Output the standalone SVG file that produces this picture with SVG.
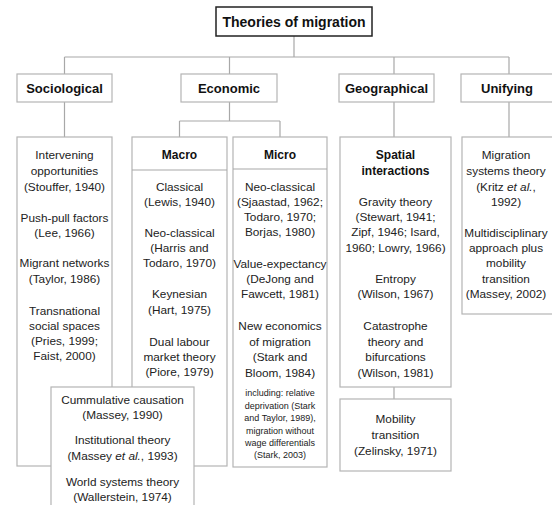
<svg xmlns="http://www.w3.org/2000/svg" width="552" height="505" viewBox="0 0 552 505">
<style>
.bx{fill:#fff;stroke:#b4b4b4;stroke-width:1.2}
.tb{fill:#fff;stroke:#222;stroke-width:1.5}
.ln{fill:none;stroke:#a8a8a8;stroke-width:1.2}
text{font-family:"Liberation Sans",Arial,sans-serif;fill:#222;text-anchor:middle}
.t{font-size:11.8px}
.h{font-size:13px;font-weight:bold;fill:#111}
.s{font-size:12px;font-weight:bold;fill:#111}
.sm{font-size:9px}
.ti{font-size:14px;font-weight:bold;fill:#111}
</style>
<rect width="552" height="505" fill="#fff"/>
<g id="connectors">
<path class="ln" d="M294 36V57M64.5 57H509M64.5 57V74M229.5 57V74M394 57V74M509 57V74"/>
<path class="ln" d="M64.5 102V137M229.5 102V121M179.5 121H280M179.5 121V137M280 121V137M394 102V137M509 102V137M394 387V399"/>
</g>
<g id="title"><rect class="tb" x="216" y="7" width="156" height="29"/><text class="ti" x="294" y="27">Theories of migration</text></g>
<g id="sociological"><rect class="bx" x="17" y="74" width="95" height="28"/><text class="h" x="64.5" y="93">Sociological</text></g>
<g id="economic"><rect class="bx" x="181" y="74" width="96" height="28"/><text class="h" x="229" y="93">Economic</text></g>
<g id="geographical"><rect class="bx" x="339" y="74" width="95" height="28"/><text class="h" x="386.5" y="93">Geographical</text></g>
<g id="unifying"><rect class="bx" x="461" y="74" width="100" height="28"/><text class="h" x="507" y="93">Unifying</text></g>
<g id="sociological-theories"><rect class="bx" x="17" y="137" width="95" height="329"/>
<text class="t" x="64.5" y="159">Intervening</text><text class="t" x="64.5" y="175">opportunities</text><text class="t" x="64.5" y="191">(Stouffer, 1940)</text>
<text class="t" x="64.5" y="222">Push-pull factors</text><text class="t" x="64.5" y="237">(Lee, 1966)</text>
<text class="t" x="64.5" y="267">Migrant networks</text><text class="t" x="64.5" y="283">(Taylor, 1986)</text>
<text class="t" x="64.5" y="315">Transnational</text><text class="t" x="64.5" y="330">social spaces</text><text class="t" x="64.5" y="345">(Pries, 1999;</text><text class="t" x="64.5" y="360">Faist, 2000)</text></g>
<g id="macro"><rect class="bx" x="132" y="137" width="95" height="329"/><path class="ln" d="M132 170H227"/>
<text class="s" x="179.5" y="159">Macro</text>
<text class="t" x="179.5" y="191">Classical</text><text class="t" x="179.5" y="206">(Lewis, 1940)</text>
<text class="t" x="179.5" y="237">Neo-classical</text><text class="t" x="179.5" y="252">(Harris and</text><text class="t" x="179.5" y="267">Todaro, 1970)</text>
<text class="t" x="179.5" y="298">Keynesian</text><text class="t" x="179.5" y="314">(Hart, 1975)</text>
<text class="t" x="179.5" y="346">Dual labour</text><text class="t" x="179.5" y="361">market theory</text><text class="t" x="179.5" y="376">(Piore, 1979)</text></g>
<g id="micro"><rect class="bx" x="233" y="137" width="94" height="330"/><path class="ln" d="M233 169H327"/>
<text class="s" x="280" y="159">Micro</text>
<text class="t" x="280" y="191">Neo-classical</text><text class="t" x="280" y="206">(Sjaastad, 1962;</text><text class="t" x="280" y="221">Todaro, 1970;</text><text class="t" x="280" y="236">Borjas, 1980)</text>
<text class="t" x="280" y="268">Value-expectancy</text><text class="t" x="280" y="283">(DeJong and</text><text class="t" x="280" y="298">Fawcett, 1981)</text>
<text class="t" x="280" y="330">New economics</text><text class="t" x="280" y="346">of migration</text><text class="t" x="280" y="361">(Stark and</text><text class="t" x="280" y="377">Bloom, 1984)</text>
<text class="sm" x="280" y="396">including: relative</text><text class="sm" x="280" y="409">deprivation (Stark</text><text class="sm" x="280" y="421">and Taylor, 1989),</text><text class="sm" x="280" y="434">migration without</text><text class="sm" x="280" y="446">wage differentials</text><text class="sm" x="280" y="458">(Stark, 2003)</text></g>
<g id="spatial"><rect class="bx" x="340" y="137" width="111" height="250"/>
<text class="s" x="395.5" y="159">Spatial</text><text class="s" x="395.5" y="175">interactions</text>
<text class="t" x="395.5" y="206">Gravity theory</text><text class="t" x="395.5" y="221">(Stewart, 1941;</text><text class="t" x="395.5" y="236">Zipf, 1946; Isard,</text><text class="t" x="395.5" y="252">1960; Lowry, 1966)</text>
<text class="t" x="395.5" y="283">Entropy</text><text class="t" x="395.5" y="298">(Wilson, 1967)</text>
<text class="t" x="395.5" y="330">Catastrophe</text><text class="t" x="395.5" y="346">theory and</text><text class="t" x="395.5" y="361">bifurcations</text><text class="t" x="395.5" y="377">(Wilson, 1981)</text></g>
<g id="mobility"><rect class="bx" x="340" y="399" width="111" height="72"/>
<text class="t" x="395.5" y="423">Mobility</text><text class="t" x="395.5" y="439">transition</text><text class="t" x="395.5" y="455">(Zelinsky, 1971)</text></g>
<g id="unifying-theories"><rect class="bx" x="462" y="137" width="100" height="177"/>
<text class="t" x="506" y="159">Migration</text><text class="t" x="506" y="175">systems theory</text><text class="t" x="506" y="191">(Kritz <tspan font-style="italic">et al.</tspan>,</text><text class="t" x="506" y="206">1992)</text>
<text class="t" x="506" y="237">Multidisciplinary</text><text class="t" x="506" y="252">approach plus</text><text class="t" x="506" y="267">mobility</text><text class="t" x="506" y="283">transition</text><text class="t" x="506" y="298">(Massey, 2002)</text></g>
<g id="cumulative"><rect class="bx" x="51" y="387" width="143" height="125"/>
<text class="t" x="122.5" y="404">Cummulative causation</text><text class="t" x="122.5" y="419">(Massey, 1990)</text>
<text class="t" x="122.5" y="444">Institutional theory</text><text class="t" x="122.5" y="460">(Massey <tspan font-style="italic">et al.</tspan>, 1993)</text>
<text class="t" x="122.5" y="486">World systems theory</text><text class="t" x="122.5" y="501">(Wallerstein, 1974)</text></g>
</svg>
